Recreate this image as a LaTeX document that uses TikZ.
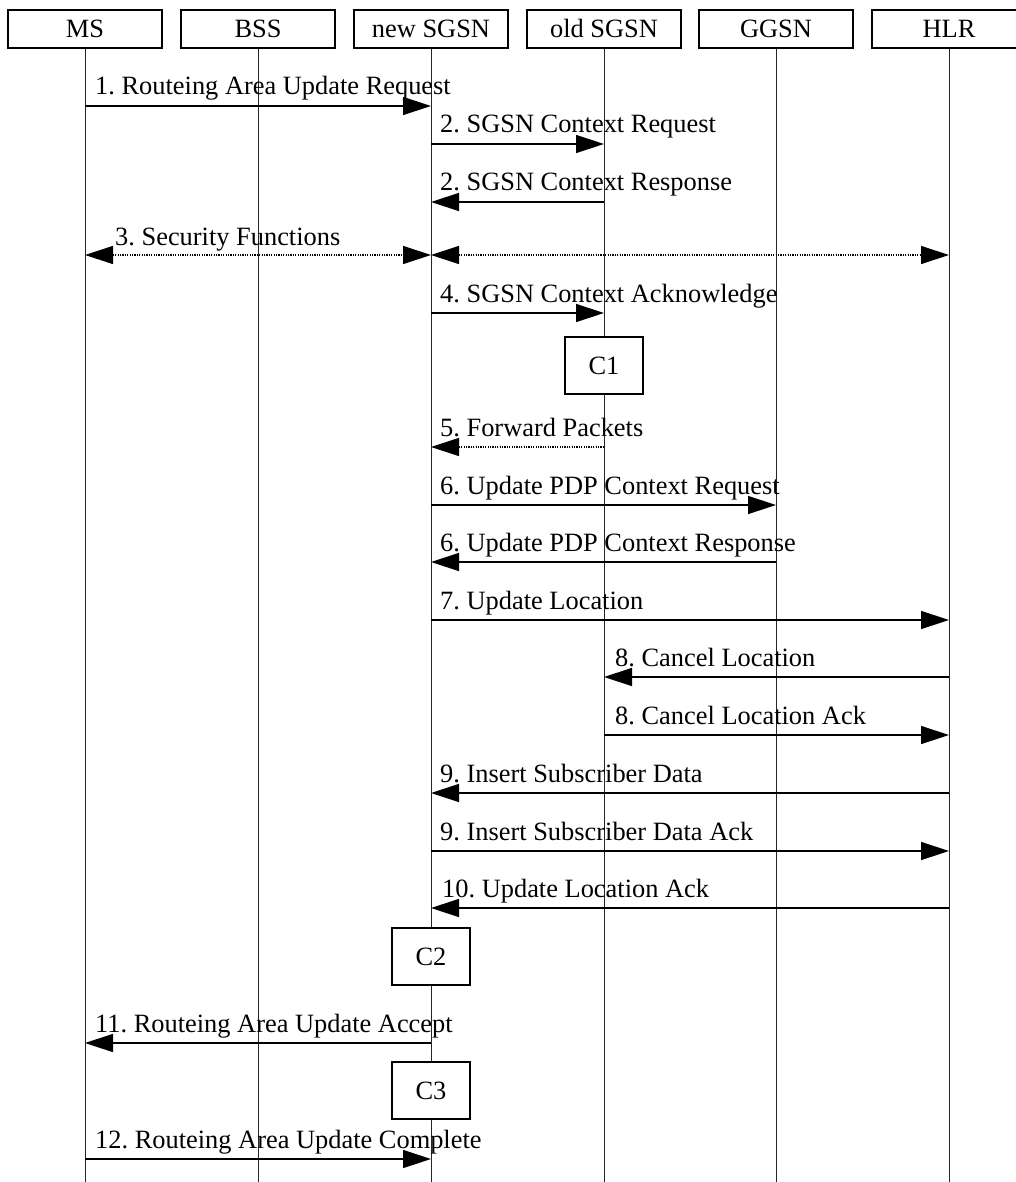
\documentclass[tikz,border=0pt]{standalone}
\usepackage{fontspec}
\setmainfont{Liberation Serif}
\usetikzlibrary{arrows.meta}
\begin{document}
\frenchspacing
\begin{tikzpicture}[x=1pt,y=-1pt,
  txt/.style={font=\fontsize{26.4}{27}\selectfont},
  hdr/.style={txt,draw,line width=1.1pt,fill=white,minimum width=154pt,minimum height=38pt,inner sep=0pt,text height=18pt,text depth=0pt},
  cbox/.style={txt,draw,line width=1.1pt,fill=white,minimum width=78pt,minimum height=57pt,inner sep=0pt,text height=18pt,text depth=0pt},
  life/.style={line width=0.9pt,draw=black!85},
  msg/.style={line width=1.4pt,-{Triangle[length=28pt,width=18pt]}},
  dmsg/.style={line width=1.2pt,dash pattern=on 1.2pt off 1.2pt,{Triangle[length=28pt,width=18pt]}-{Triangle[length=28pt,width=18pt]}},
  dmsgr/.style={line width=1.2pt,dash pattern=on 1.2pt off 1.2pt,-{Triangle[length=28pt,width=18pt]}},
  lbl/.style={txt,anchor=base west,inner sep=0pt}]
\useasboundingbox (0,0) rectangle (1015,1182);
\fill[white] (0,0) rectangle (1015,1182);
% headers
\node[hdr] (ms)  at (85,29)  {MS};
\node[hdr] (bss) at (258,29) {BSS};
\node[hdr] (ns)  at (431,29) {new SGSN};
\node[hdr] (os)  at (604,29) {old SGSN};
\node[hdr] (gg)  at (776,29) {GGSN};
\node[hdr] (hlr) at (949,29) {HLR};
% lifeline ends
\coordinate (msE)  at (85,1182);
\coordinate (bssE) at (258,1182);
\coordinate (nsE)  at (431,1182);
\coordinate (osE)  at (604,1182);
\coordinate (ggE)  at (776,1182);
\coordinate (hlrE) at (949,1182);
\draw[life] (ms.south) -- (msE);
\draw[life] (bss.south) -- (bssE);
\draw[life] (ns.south) -- (nsE);
\draw[life] (os.south) -- (osE);
\draw[life] (gg.south) -- (ggE);
\draw[life] (hlr.south) -- (hlrE);
% 1
\coordinate (m1a) at (85,106); \coordinate (m1b) at (431,106);
\draw[msg] (m1a) -- (m1b);
\node[lbl] (l1) at (95,95) {1. Routeing Area Update Request};
% 2
\coordinate (m2a) at (431,144); \coordinate (m2b) at (604,144);
\draw[msg] (m2a) -- (m2b);
\node[lbl] (l2) at (440,133) {2. SGSN Context Request};
\coordinate (m2c) at (604,202); \coordinate (m2d) at (431,202);
\draw[msg] (m2c) -- (m2d);
\node[lbl] (l2b) at (440,191) {2. SGSN Context Response};
% 3
\coordinate (m3a) at (85,255); \coordinate (m3b) at (431,255); \coordinate (m3c) at (949,255);
\draw[dmsg] (m3a) -- (m3b);
\draw[dmsg] (m3b) -- (m3c);
\node[lbl] (l3) at (115,245) {3. Security Functions};
% 4
\coordinate (m4a) at (431,313); \coordinate (m4b) at (604,313);
\draw[msg] (m4a) -- (m4b);
\node[lbl] (l4) at (440,302) {4. SGSN Context Acknowledge};
\node[cbox] (c1) at (604,365.5) {C1};
% 5
\coordinate (m5a) at (604,447); \coordinate (m5b) at (431,447);
\draw[dmsgr] (m5a) -- (m5b);
\node[lbl] (l5) at (440,436) {5. Forward Packets};
% 6
\coordinate (m6a) at (431,505); \coordinate (m6b) at (776,505);
\draw[msg] (m6a) -- (m6b);
\node[lbl] (l6) at (440,494) {6. Update PDP Context Request};
\coordinate (m6c) at (776,562); \coordinate (m6d) at (431,562);
\draw[msg] (m6c) -- (m6d);
\node[lbl] (l6b) at (440,551) {6. Update PDP Context Response};
% 7
\coordinate (m7a) at (431,620); \coordinate (m7b) at (949,620);
\draw[msg] (m7a) -- (m7b);
\node[lbl] (l7) at (440,609) {7. Update Location};
% 8
\coordinate (m8a) at (949,677); \coordinate (m8b) at (604,677);
\draw[msg] (m8a) -- (m8b);
\node[lbl] (l8) at (615,666) {8. Cancel Location};
\coordinate (m8c) at (604,735); \coordinate (m8d) at (949,735);
\draw[msg] (m8c) -- (m8d);
\node[lbl] (l8b) at (615,724) {8. Cancel Location Ack};
% 9
\coordinate (m9a) at (949,793); \coordinate (m9b) at (431,793);
\draw[msg] (m9a) -- (m9b);
\node[lbl] (l9) at (440,782) {9. Insert Subscriber Data};
\coordinate (m9c) at (431,851); \coordinate (m9d) at (949,851);
\draw[msg] (m9c) -- (m9d);
\node[lbl] (l9b) at (440,840) {9. Insert Subscriber Data Ack};
% 10
\coordinate (m10a) at (949,908); \coordinate (m10b) at (431,908);
\draw[msg] (m10a) -- (m10b);
\node[lbl] (l10) at (442,897) {10. Update Location Ack};
\node[cbox] (c2) at (431,956.5) {C2};
% 11
\coordinate (m11a) at (431,1043); \coordinate (m11b) at (85,1043);
\draw[msg] (m11a) -- (m11b);
\node[lbl] (l11) at (95,1032) {11. Routeing Area Update Accept};
\node[cbox] (c3) at (431,1090.5) {C3};
% 12
\coordinate (m12a) at (85,1159); \coordinate (m12b) at (431,1159);
\draw[msg] (m12a) -- (m12b);
\node[lbl] (l12) at (95,1148) {12. Routeing Area Update Complete};
\end{tikzpicture}
\end{document}
